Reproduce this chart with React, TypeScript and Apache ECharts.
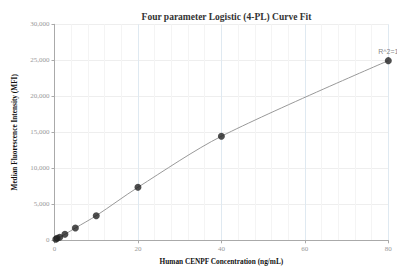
import React, { useEffect, useRef } from "react";
import * as echarts from "echarts";

const concentrations = [0.3125, 0.625, 1.25, 2.5, 5, 10, 20, 40, 80];
const mfiValues = [140, 280, 420, 830, 1710, 3420, 7360, 14450, 24950];
const titleText = "Four parameter Logistic (4-PL) Curve Fit";
const xAxisName = "Human CENPF Concentration (ng/mL)";
const yAxisName = "Median Fluorescence Intensity (MFI)";
const fitLabel = "R^2=1";

export default function App() {
  const ref = useRef<HTMLDivElement>(null);
  useEffect(() => {
    if (!ref.current) return;
    const chart = echarts.init(ref.current, undefined, { renderer: "svg" });
    const pts = concentrations.map((c, i) => [c, mfiValues[i]]);
    chart.setOption({
      animation: false,
      title: {
        text: titleText,
        left: 221.5,
        textAlign: "center",
        top: 7,
        textStyle: { fontFamily: "Liberation Serif", fontWeight: "bold", fontSize: 9.5, color: "#333" },
      },
      grid: { left: 54.5, right: 8.7, top: 24.3, bottom: 30.7 },
      xAxis: {
        type: "value",
        min: 0,
        max: 80,
        interval: 20,
        name: xAxisName,
        nameLocation: "middle",
        nameGap: 18,
        nameTextStyle: { fontFamily: "Liberation Serif", fontWeight: "bold", fontSize: 7.3, color: "#111" },
        axisLine: { lineStyle: { color: "#aaa" } },
        axisTick: { show: true, length: 3, lineStyle: { color: "#aaa" } },
        axisLabel: { fontFamily: "Liberation Serif", fontSize: 7, color: "#999", margin: 5 },
        splitLine: { show: true, lineStyle: { color: "#dfe9f1", width: 1 } },
        minorTick: { show: false, splitNumber: 5 },
        minorSplitLine: { show: true, lineStyle: { color: "#f4f4f4", width: 1 } },
      },
      yAxis: {
        type: "value",
        min: 0,
        max: 30000,
        interval: 5000,
        name: yAxisName,
        nameLocation: "middle",
        nameGap: 37,
        nameTextStyle: { fontFamily: "Liberation Serif", fontWeight: "bold", fontSize: 7.3, color: "#111" },
        axisLine: { show: true, lineStyle: { color: "#aaa" } },
        axisTick: { show: true, length: 3, lineStyle: { color: "#aaa" } },
        axisLabel: {
          fontFamily: "Liberation Serif",
          fontSize: 7,
          color: "#999",
          margin: 5,
          formatter: (v: number) => v.toLocaleString("en-US"),
        },
        splitLine: { show: true, lineStyle: { color: "#eeeeee", width: 1 } },
      },
      series: [
        {
          type: "line",
          data: pts,
          smooth: 0.3,
          symbol: "none",
          lineStyle: { color: "#999", width: 1 },
          z: 2,
        },
        {
          type: "scatter",
          data: pts,
          symbolSize: 7,
          itemStyle: { color: "#222" },
          z: 3,
          label: {
            show: true,
            position: "top",
            distance: 2,
            fontFamily: "Liberation Sans",
            fontSize: 7,
            color: "#666",
            formatter: (p: any) => (p.dataIndex === concentrations.length - 1 ? fitLabel : ""),
          },
        },
      ],
    });
    return () => chart.dispose();
  }, []);
  return <div ref={ref} style={{ width: 397, height: 271, position: "absolute", left: 0, top: 0 }} />;
}
